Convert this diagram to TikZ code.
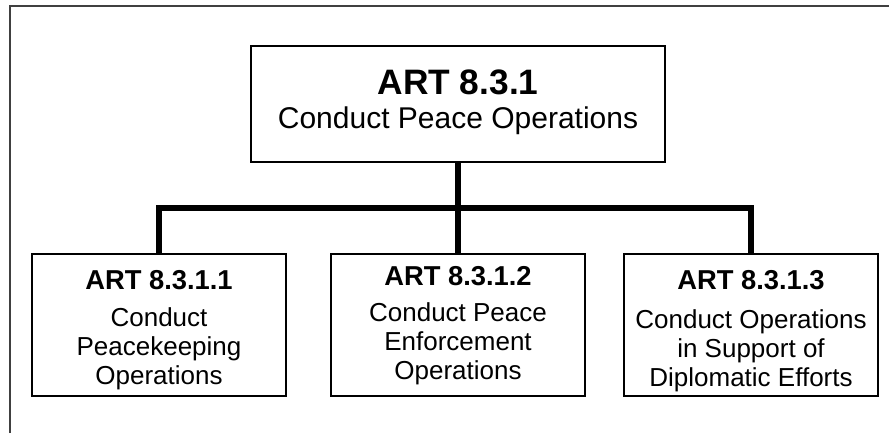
\documentclass[tikz,border=0pt]{standalone}
\usepackage{fontspec}
\setmainfont{Liberation Sans}
\begin{document}
\begin{tikzpicture}[x=0.75pt,y=-0.75pt,
  box/.style={draw=black,line width=1.5pt,fill=white,align=center,inner sep=0pt},
  topbox/.style={box,minimum width=311pt,minimum height=87pt,font=\fontsize{22.5}{28.5}\selectfont},
  subbox/.style={box,minimum width=191pt,minimum height=107pt,font=\fontsize{19.5}{22}\selectfont},
  toptitle/.style={font=\fontsize{26.5}{28}\selectfont\bfseries},
  subtitle/.style={font=\fontsize{20.5}{22}\selectfont\bfseries},
  conn/.style={line width=4.5pt,line join=miter},
  frame/.style={draw=black!75,line width=1.5pt}]
\useasboundingbox (0,0) rectangle (889,433);
\draw[frame] (10,433) -- (10,5.5) -- (889,5.5);
\node[topbox] (top) at (458,103.5) {};
\node[toptitle] (toptext) at (458,82) {ART 8.3.1};
\node[font=\fontsize{22.5}{28.5}\selectfont] (topbody) at (458,121) {Conduct Peace Operations};
\node[subbox] (b1) at (159,325) {};
\node[subbox] (b2) at (458,325) {};
\node[subbox] (b3) at (751,325) {};
\node[subtitle] (t1) at (159,280) {ART 8.3.1.1};
\node[subtitle] (t2) at (458,276) {ART 8.3.1.2};
\node[subtitle] (t3) at (751,280) {ART 8.3.1.3};
\node[align=center,font=\fontsize{19.5}{21.75}\selectfont,anchor=north] (x1) at (159,303) {Conduct\\Peacekeeping\\Operations};
\node[align=center,font=\fontsize{19.5}{21.75}\selectfont,anchor=north] (x2) at (458,298) {Conduct Peace\\Enforcement\\Operations};
\node[align=center,font=\fontsize{19.5}{21.75}\selectfont,anchor=north] (x3) at (751,305) {Conduct Operations\\in Support of\\Diplomatic Efforts};
\coordinate (bar) at (458,208);
\draw[conn] (top.south) -- (b2.north);
\draw[conn] (b1.north) |- (bar) -| (b3.north);
\end{tikzpicture}
\end{document}
